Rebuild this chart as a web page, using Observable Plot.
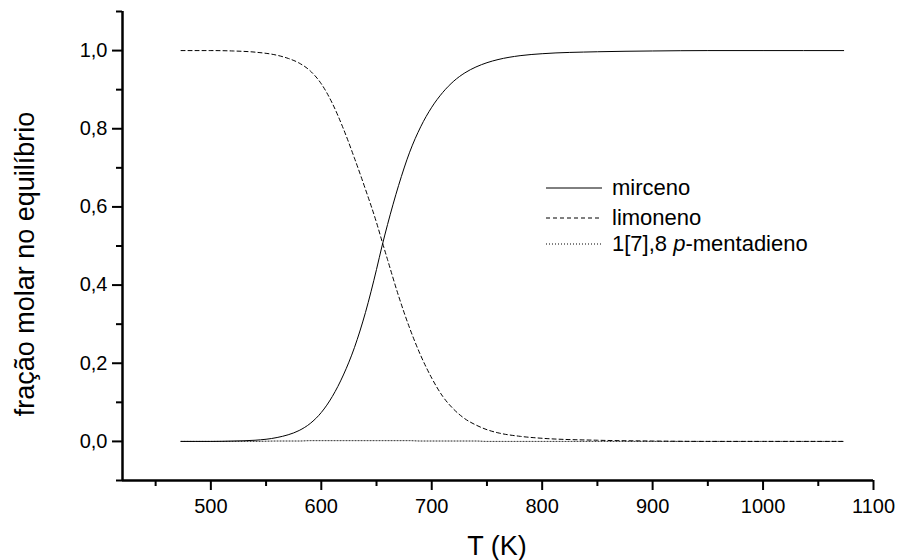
<!DOCTYPE html>
<html>
<head>
<meta charset="utf-8">
<script src="https://cdn.jsdelivr.net/npm/d3@7"></script>
<script src="https://cdn.jsdelivr.net/npm/@observablehq/plot@0.6"></script>
<style>
  html, body { margin: 0; padding: 0; background: #fff; }
  #chart svg { display: block; }
</style>
</head>
<body>
<div id="chart"></div>
<script>
// ---- data ----
const temps = [473, 500, 520, 540, 560, 570, 580, 590, 600, 610, 620, 630, 640, 650, 655, 660, 670, 680, 690, 700, 710, 720, 730, 740, 750, 760, 780, 800, 850, 900, 950, 1000, 1073];
const mirceno = [0.000, 0.000, 0.001, 0.003, 0.010, 0.017, 0.028, 0.046, 0.074, 0.115, 0.170, 0.240, 0.330, 0.440, 0.500, 0.555, 0.655, 0.740, 0.805, 0.855, 0.893, 0.922, 0.943, 0.958, 0.969, 0.977, 0.987, 0.992, 0.997, 0.999, 1.000, 1.000, 1.000];
const limoneno = [1.000, 1.000, 0.999, 0.996, 0.988, 0.980, 0.968, 0.948, 0.915, 0.865, 0.800, 0.725, 0.645, 0.560, 0.512, 0.465, 0.372, 0.290, 0.220, 0.162, 0.115, 0.082, 0.058, 0.042, 0.030, 0.022, 0.013, 0.008, 0.003, 0.001, 0.000, 0.000, 0.000];
const mentadieno = [0.000, 0.000, 0.000, 0.000, 0.001, 0.001, 0.001, 0.002, 0.002, 0.002, 0.002, 0.002, 0.002, 0.002, 0.002, 0.002, 0.002, 0.002, 0.001, 0.001, 0.001, 0.001, 0.001, 0.001, 0.000, 0.000, 0.000, 0.000, 0.000, 0.000, 0.000, 0.000, 0.000];
const seriesNames = ["mirceno", "limoneno", "1[7],8 p-mentadieno"];
const xMajorTicks = [500, 600, 700, 800, 900, 1000, 1100];
const xMinorTicks = [450, 550, 650, 750, 850, 950, 1050];
const yMajorTicks = [0.0, 0.2, 0.4, 0.6, 0.8, 1.0];
const yMinorTicks = [-0.1, 0.1, 0.3, 0.5, 0.7, 0.9, 1.1];
const xTitle = "T (K)";
const yTitle = "fração molar no equilíbrio";

// ---- styles ----
const dashes = ["none", "4,3", "1,2"];
const FONT = "'Liberation Sans', Arial, Helvetica, sans-serif";

const seriesValues = [mirceno, limoneno, mentadieno];
const rows = [];
seriesNames.forEach((name, i) => {
  temps.forEach((t, j) => rows.push({series: name, T: t, v: seriesValues[i][j]}));
});

const fmtY = d => d.toFixed(1).replace(".", ",");

const chart = Plot.plot({
  width: 898,
  height: 560,
  marginLeft: 122,
  marginRight: 25,
  marginTop: 11,
  marginBottom: 80,
  style: {fontFamily: FONT, color: "black", background: "white", overflow: "visible"},
  x: {domain: [420, 1100]},
  y: {domain: [-0.1, 1.1]},
  marks: [
    Plot.axisX({ticks: xMajorTicks, tickSize: 10, tickPadding: 8, fontSize: 20, strokeWidth: 2, tickFormat: d => String(d), label: null}),
    Plot.axisX({ticks: xMinorTicks, tickSize: 6, strokeWidth: 2, tickFormat: () => "", label: null}),
    Plot.axisY({ticks: yMajorTicks, tickSize: 10, tickPadding: 5, fontSize: 20, strokeWidth: 2, tickFormat: fmtY, label: null}),
    Plot.axisY({ticks: yMinorTicks, tickSize: 6, strokeWidth: 2, tickFormat: () => "", label: null}),
    Plot.ruleX([420], {stroke: "black", strokeWidth: 2.5}),
    Plot.ruleY([-0.1], {stroke: "black", strokeWidth: 2.5}),
    ...seriesNames.map((name, i) =>
      Plot.line(rows.filter(r => r.series === name), {
        x: "T", y: "v", stroke: "black", strokeWidth: 1,
        strokeDasharray: dashes[i], curve: "monotone-x"
      })
    )
  ]
});

const svg = d3.select(chart);

// axis titles
svg.append("text")
  .attr("x", 497).attr("y", 555)
  .attr("text-anchor", "middle")
  .style("font-family", FONT).style("font-size", "27px").attr("fill", "black")
  .text(xTitle);

svg.append("text")
  .attr("transform", "translate(34,264) rotate(-90)")
  .attr("text-anchor", "middle")
  .style("font-family", FONT).style("font-size", "27px").attr("fill", "black")
  .text(yTitle);

// legend
const legend = svg.append("g").attr("text-anchor", "start");
const rowY = [188, 218, 244];
seriesNames.forEach((name, i) => {
  legend.append("line")
    .attr("x1", 546).attr("x2", 602).attr("y1", rowY[i]).attr("y2", rowY[i])
    .attr("stroke", "black").attr("stroke-width", 1)
    .attr("stroke-dasharray", dashes[i]);
  const t = legend.append("text")
    .attr("x", 612).attr("y", rowY[i] + 7)
    .attr("text-anchor", "start")
    .style("font-family", FONT).style("font-size", "22px").attr("fill", "black");
  if (i === 2) {
    t.append("tspan").text("1[7],8 ");
    t.append("tspan").attr("font-style", "italic").text("p");
    t.append("tspan").text("-mentadieno");
  } else {
    t.text(name);
  }
});

document.getElementById("chart").appendChild(chart);
</script>
</body>
</html>
